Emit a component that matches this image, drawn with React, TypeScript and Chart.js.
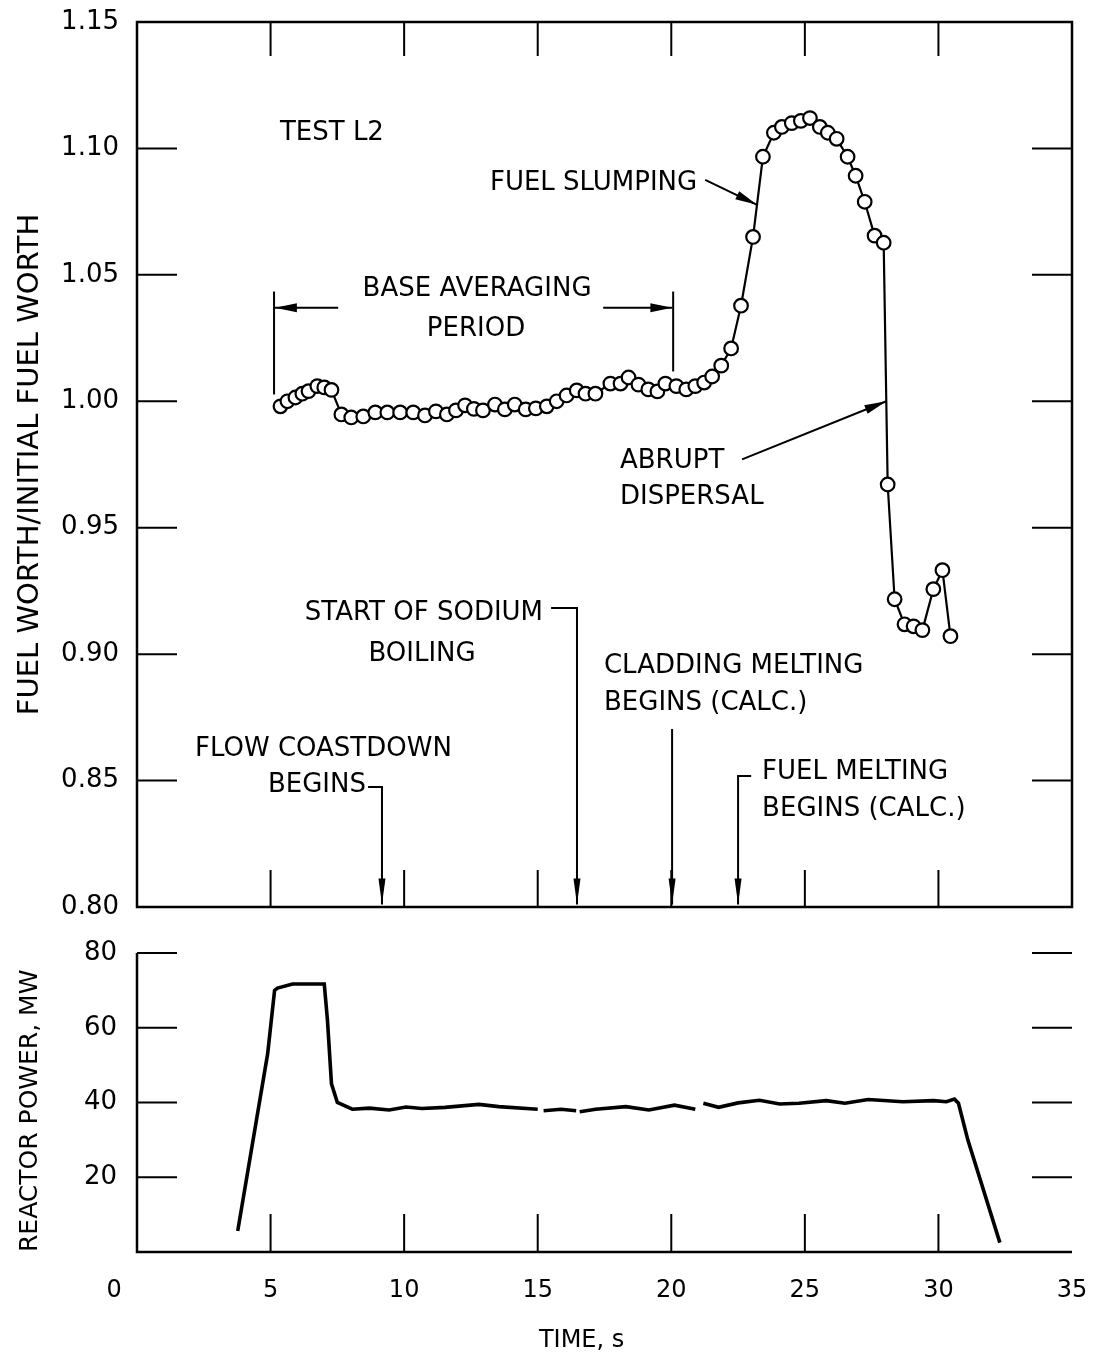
import { useEffect, useRef } from "react";
import { Chart, registerables } from "chart.js";

Chart.register(...registerables);

const FONT = '"DejaVu Sans", "Liberation Sans", sans-serif';

// ---- axes ----
const xTicks = [0, 5, 10, 15, 20, 25, 30, 35];
const worthTicks = [0.8, 0.85, 0.9, 0.95, 1.0, 1.05, 1.1, 1.15];
const powerTicks = [0, 20, 40, 60, 80];

// ---- fuel worth / initial fuel worth (Test L2) ----
const worthTime = [
  5.37, 5.63, 5.93, 6.19, 6.42, 6.75, 7.01, 7.28, 7.65, 8.02, 8.47, 8.92, 9.37, 9.85,
  10.34, 10.78, 11.19, 11.6, 11.94, 12.28, 12.61, 12.95, 13.4, 13.77, 14.14, 14.55,
  14.93, 15.34, 15.71, 16.08, 16.46, 16.79, 17.16, 17.72, 18.1, 18.4, 18.77, 19.14,
  19.48, 19.78, 20.19, 20.56, 20.9, 21.23, 21.53, 21.87, 22.24, 22.61, 23.06, 23.43,
  23.84, 24.14, 24.51, 24.85, 25.19, 25.56, 25.86, 26.19, 26.6, 26.9, 27.24, 27.61,
  27.95, 28.1, 28.36, 28.73, 29.07, 29.4, 29.81, 30.15, 30.45,
];
const worthValue = [
  0.998, 1.0, 1.0015, 1.003, 1.004, 1.006, 1.0055, 1.0045, 0.9948, 0.9936, 0.994, 0.9956,
  0.9956, 0.9956, 0.9956, 0.9944, 0.996, 0.9948, 0.9964, 0.9984, 0.997, 0.9964, 0.9987,
  0.9968, 0.9987, 0.9968, 0.9972, 0.998, 1.0, 1.0023, 1.0043, 1.003, 1.003, 1.007, 1.007,
  1.0094, 1.0066, 1.0047, 1.0039, 1.007, 1.006, 1.0047, 1.006, 1.0074, 1.0098, 1.0141,
  1.0209, 1.0378, 1.065, 1.0967, 1.1062, 1.1085, 1.11, 1.1109, 1.112, 1.1085, 1.1062,
  1.1038, 1.0967, 1.0892, 1.0789, 1.0655, 1.0627, 0.9671, 0.9217, 0.9118, 0.911, 0.9095,
  0.9257, 0.9332, 0.9071,
];

// ---- reactor power, MW (null = break in the trace) ----
const powerTime = [
  3.77, 4.89, 5.15, 5.26, 5.82, 7.01, 7.13, 7.28, 7.5, 8.06, 8.7, 9.44, 10.07, 10.67,
  11.53, 12.8, 13.54, 15.0, 15.1, 15.22, 15.87, 16.44, 16.5, 16.57, 17.17, 18.3, 19.16,
  20.12, 20.9, 21.05, 21.2, 21.77, 22.5, 23.3, 24.06, 24.78, 25.8, 26.5, 27.37, 28.67,
  29.82, 30.3, 30.6, 30.75, 31.1, 32.3,
];
const powerValue = [
  5.6, 53, 70, 70.6, 71.7, 71.7, 62, 45, 40, 38.2, 38.5, 38, 38.8, 38.4, 38.7, 39.5, 38.9,
  38.2, null, 37.8, 38.2, 37.8, null, 37.5, 38.2, 38.9, 38.0, 39.3, 38.2, null, 39.8, 38.7,
  39.9, 40.6, 39.6, 39.8, 40.5, 39.8, 40.8, 40.2, 40.5, 40.2, 40.9, 39.8, 30, 2.5,
];

// ---- annotations (data coordinates of the top panel) ----
const topTexts = [
  { text: "TEST L2", t: 5.35, v: 1.1062, align: "left" },
  { text: "FUEL SLUMPING", t: 20.97, v: 1.0864, align: "right" },
  { text: "BASE AVERAGING", t: 12.73, v: 1.0442, align: "center" },
  { text: "PERIOD", t: 12.69, v: 1.0284, align: "center" },
  { text: "ABRUPT", t: 18.08, v: 0.9762, align: "left" },
  { text: "DISPERSAL", t: 18.08, v: 0.962, align: "left" },
  { text: "START OF SODIUM", t: 15.2, v: 0.9162, align: "right" },
  { text: "BOILING", t: 10.67, v: 0.9, align: "center" },
  { text: "CLADDING MELTING", t: 17.48, v: 0.8953, align: "left" },
  { text: "BEGINS (CALC.)", t: 17.48, v: 0.8806, align: "left" },
  { text: "FLOW COASTDOWN", t: 2.17, v: 0.8625, align: "left" },
  { text: "BEGINS", t: 8.57, v: 0.8483, align: "right" },
  { text: "FUEL MELTING", t: 23.4, v: 0.8534, align: "left" },
  { text: "BEGINS (CALC.)", t: 23.4, v: 0.8388, align: "left" },
];
const topLines = [
  { pts: [[21.27, 1.0876], [23.21, 1.0777]], arrow: true },
  { pts: [[5.13, 1.0434], [5.13, 1.0027]], arrow: false },
  { pts: [[7.53, 1.037], [5.16, 1.037]], arrow: true },
  { pts: [[20.07, 1.0434], [20.07, 1.0118]], arrow: false },
  { pts: [[17.45, 1.037], [20.04, 1.037]], arrow: true },
  { pts: [[22.65, 0.977], [28.05, 1.0]], arrow: true },
  { pts: [[15.5, 0.9182], [16.47, 0.9182], [16.47, 0.801]], arrow: true },
  { pts: [[20.03, 0.8704], [20.03, 0.801]], arrow: true },
  { pts: [[8.65, 0.8475], [9.17, 0.8475], [9.17, 0.801]], arrow: true },
  { pts: [[22.99, 0.8518], [22.5, 0.8518], [22.5, 0.801]], arrow: true },
];

function arrowHead(ctx: CanvasRenderingContext2D, x1: number, y1: number, x2: number, y2: number, len: number, half: number) {
  const a = Math.atan2(y2 - y1, x2 - x1);
  const bx = x2 - len * Math.cos(a);
  const by = y2 - len * Math.sin(a);
  ctx.beginPath();
  ctx.moveTo(x2, y2);
  ctx.lineTo(bx + half * Math.sin(a), by - half * Math.cos(a));
  ctx.lineTo(bx - half * Math.sin(a), by + half * Math.cos(a));
  ctx.closePath();
  ctx.fill();
}

const topFramePlugin = {
  id: "topFrame",
  beforeDatasetsDraw(chart: any) {
    const { ctx, chartArea: a, scales } = chart;
    const x = scales.x, y = scales.y;
    ctx.save();
    ctx.strokeStyle = "#000";
    ctx.lineWidth = 2.5;
    ctx.strokeRect(a.left, a.top, a.right - a.left, a.bottom - a.top);
    ctx.lineWidth = 2;
    ctx.beginPath();
    for (const v of xTicks) {
      if (v <= 0 || v >= 35) continue;
      const px = x.getPixelForValue(v);
      ctx.moveTo(px, a.top);
      ctx.lineTo(px, a.top + 34);
      ctx.moveTo(px, a.bottom);
      ctx.lineTo(px, a.bottom - 37);
    }
    for (const v of worthTicks) {
      if (v <= 0.8001 || v >= 1.1499) continue;
      const py = y.getPixelForValue(v);
      ctx.moveTo(a.left, py);
      ctx.lineTo(a.left + 40, py);
      ctx.moveTo(a.right, py);
      ctx.lineTo(a.right - 40, py);
    }
    ctx.stroke();
    ctx.restore();
  },
  afterDatasetsDraw(chart: any) {
    const { ctx, scales } = chart;
    const x = scales.x, y = scales.y;
    ctx.save();
    ctx.fillStyle = "#000";
    ctx.strokeStyle = "#000";
    ctx.lineWidth = 2;
    ctx.font = `26px ${FONT}`;
    ctx.textBaseline = "middle";
    for (const t of topTexts) {
      ctx.textAlign = t.align as CanvasTextAlign;
      ctx.fillText(t.text, x.getPixelForValue(t.t), y.getPixelForValue(t.v));
    }
    for (const l of topLines) {
      const p = l.pts.map(([tt, vv]) => [x.getPixelForValue(tt), y.getPixelForValue(vv)]);
      ctx.beginPath();
      ctx.moveTo(p[0][0], p[0][1]);
      for (let i = 1; i < p.length; i++) ctx.lineTo(p[i][0], p[i][1]);
      ctx.stroke();
      if (l.arrow) {
        const n = p.length;
        const vertical = Math.abs(p[n - 1][0] - p[n - 2][0]) < 1;
        arrowHead(ctx, p[n - 2][0], p[n - 2][1], p[n - 1][0], p[n - 1][1], vertical ? 26 : 22, vertical ? 3.5 : 4.5);
      }
    }
    ctx.restore();
  },
};

const bottomFramePlugin = {
  id: "bottomFrame",
  beforeDatasetsDraw(chart: any) {
    const { ctx, chartArea: a, scales } = chart;
    const x = scales.x, y = scales.y;
    ctx.save();
    ctx.strokeStyle = "#000";
    ctx.lineWidth = 2.5;
    ctx.beginPath();
    ctx.moveTo(a.left, a.top);
    ctx.lineTo(a.left, a.bottom);
    ctx.lineTo(a.right, a.bottom);
    ctx.stroke();
    ctx.lineWidth = 2;
    ctx.beginPath();
    for (const v of powerTicks) {
      if (v <= 0) continue;
      const py = y.getPixelForValue(v);
      ctx.moveTo(a.left, py);
      ctx.lineTo(a.left + 40, py);
      ctx.moveTo(a.right, py);
      ctx.lineTo(a.right - 40, py);
    }
    for (const v of xTicks) {
      if (v <= 0 || v >= 35) continue;
      const px = x.getPixelForValue(v);
      ctx.moveTo(px, a.bottom);
      ctx.lineTo(px, a.bottom - 38);
    }
    ctx.stroke();
    ctx.restore();
  },
};

const fixVertical = (s: any) => {
  s.width = 137;
  s.paddingTop = 0;
  s.paddingBottom = 0;
};

export default function App() {
  const topRef = useRef<HTMLCanvasElement>(null);
  const botRef = useRef<HTMLCanvasElement>(null);

  useEffect(() => {
    const worthData = worthTime.map((t, i) => ({ x: t, y: worthValue[i] }));
    const powerData = powerTime.map((t, i) => ({ x: t, y: powerValue[i] }));

    const c1 = new Chart(topRef.current as HTMLCanvasElement, {
      type: "line",
      data: {
        datasets: [
          {
            data: worthData as any,
            borderColor: "#000",
            borderWidth: 2.2,
            pointRadius: 6.8,
            pointBackgroundColor: "#fff",
            pointBorderColor: "#000",
            pointBorderWidth: 2.2,
            tension: 0,
            fill: false,
          },
        ],
      },
      options: {
        animation: false,
        responsive: false,
        layout: { padding: { top: 22, right: 25, bottom: 23, left: 0 } },
        plugins: { legend: { display: false }, tooltip: { enabled: false } },
        scales: {
          x: { type: "linear", min: 0, max: 35, display: false },
          y: {
            type: "linear",
            min: 0.8,
            max: 1.15,
            afterBuildTicks: (s: any) => {
              s.ticks = worthTicks.map((v) => ({ value: v }));
            },
            afterFit: fixVertical,
            grid: { display: false, drawTicks: false },
            border: { display: false },
            ticks: {
              color: "#000",
              padding: 18,
              font: { family: FONT, size: 26 },
              callback: (v: any) => Number(v).toFixed(2),
            },
            title: {
              display: true,
              text: "FUEL WORTH/INITIAL FUEL WORTH",
              color: "#000",
              font: { family: FONT, size: 29 },
              padding: { top: 13, bottom: 0 },
            },
          },
        },
      },
      plugins: [topFramePlugin],
    });

    const c2 = new Chart(botRef.current as HTMLCanvasElement, {
      type: "line",
      data: {
        datasets: [
          {
            data: powerData as any,
            borderColor: "#000",
            borderWidth: 3.6,
            pointRadius: 0,
            spanGaps: false,
            tension: 0,
            fill: false,
          },
        ],
      },
      options: {
        animation: false,
        responsive: false,
        layout: { padding: { top: 23, right: 25, bottom: 0, left: 0 } },
        plugins: { legend: { display: false }, tooltip: { enabled: false } },
        scales: {
          x: {
            type: "linear",
            min: 0,
            max: 35,
            afterBuildTicks: (s: any) => {
              s.ticks = xTicks.map((v) => ({ value: v }));
            },
            afterFit: (s: any) => {
              s.height = 109;
              s.paddingLeft = 0;
              s.paddingRight = 0;
            },
            grid: { display: false, drawTicks: false },
            border: { display: false },
            ticks: {
              color: "#000",
              padding: 24,
              maxRotation: 0,
              autoSkip: false,
              font: { family: FONT, size: 24 },
              callback: (v: any) => (Number(v) === 0 ? "0      " : String(v)),
            },
            title: {
              display: true,
              text: "TIME, s      ",
              color: "#000",
              font: { family: FONT, size: 24 },
              padding: { top: 0, bottom: 6 },
            },
          },
          y: {
            type: "linear",
            min: 0,
            max: 80,
            afterBuildTicks: (s: any) => {
              s.ticks = powerTicks.map((v) => ({ value: v }));
            },
            afterFit: fixVertical,
            grid: { display: false, drawTicks: false },
            border: { display: false },
            ticks: {
              color: "#000",
              padding: 20,
              font: { family: FONT, size: 26 },
              callback: (v: any) => (Number(v) === 0 ? "" : String(v)),
            },
            title: {
              display: true,
              text: "REACTOR POWER, MW",
              align: "start",
              color: "#000",
              font: { family: FONT, size: 25 },
              padding: { top: 15, bottom: 0 },
            },
          },
        },
      },
      plugins: [bottomFramePlugin],
    });

    return () => {
      c1.destroy();
      c2.destroy();
    };
  }, []);

  return (
    <div style={{ position: "absolute", left: 0, top: 0, width: 1097, height: 1361, background: "#fff" }}>
      <canvas ref={topRef} width={1097} height={930} style={{ position: "absolute", left: 0, top: 0 }} />
      <canvas ref={botRef} width={1097} height={431} style={{ position: "absolute", left: 0, top: 930 }} />
    </div>
  );
}
